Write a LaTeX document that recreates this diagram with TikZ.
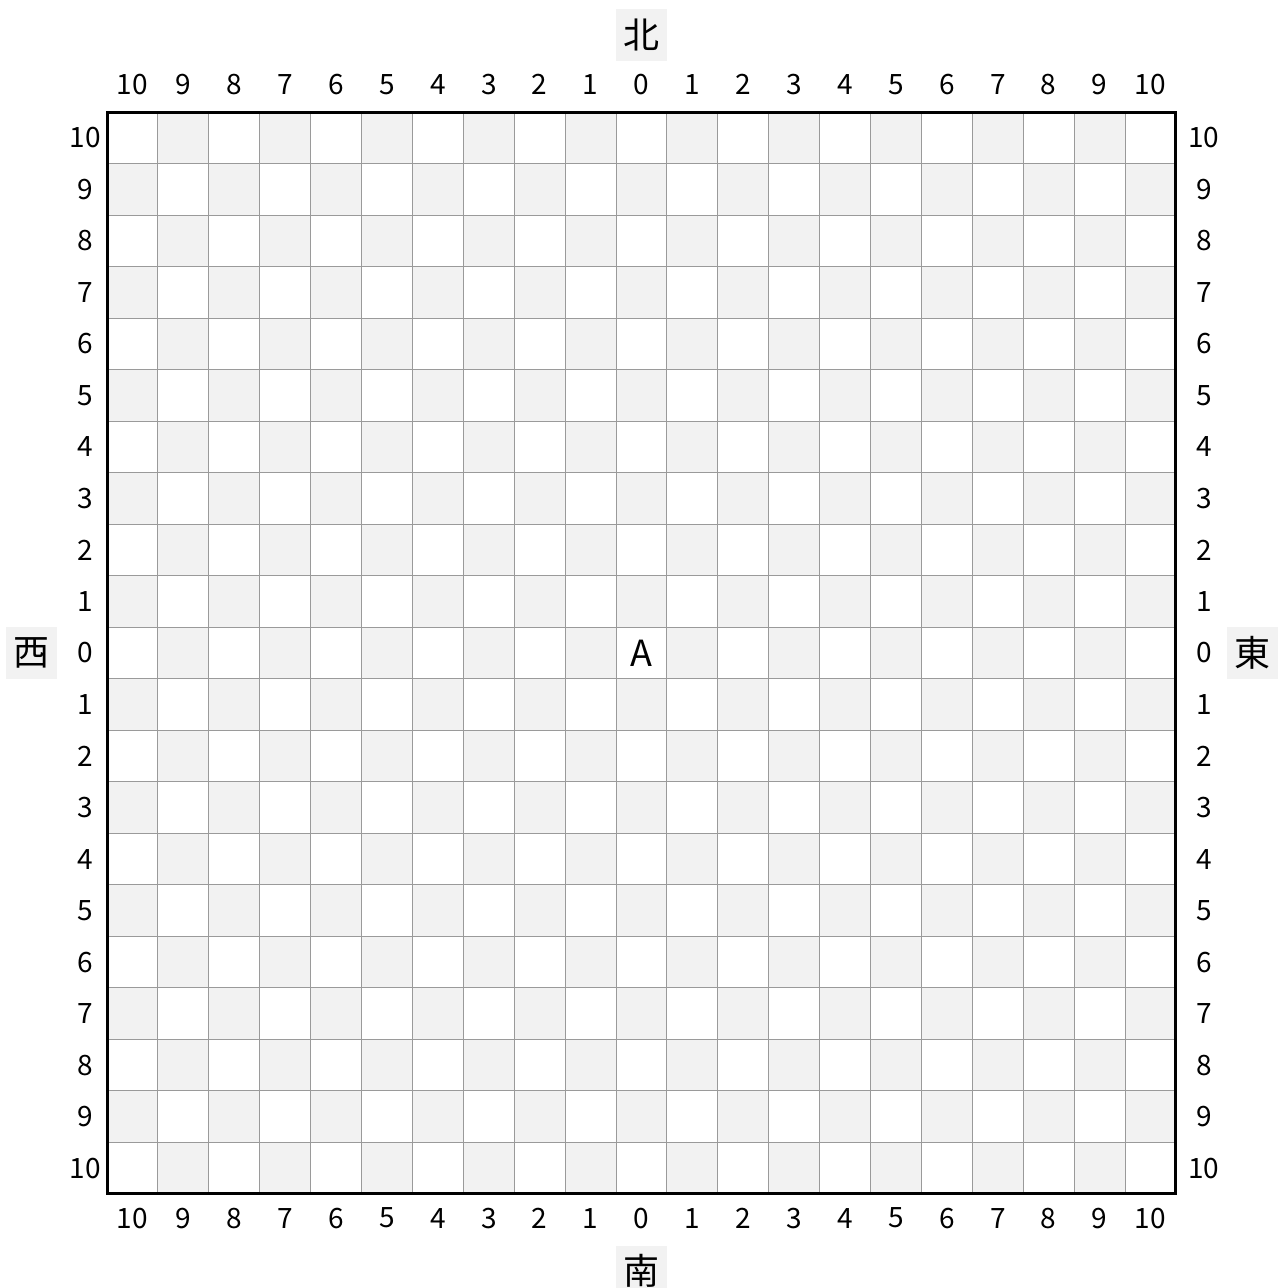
\documentclass[tikz,border=0pt]{standalone}
\usepackage{fontspec}
\setmainfont{Noto Sans CJK JP}

\begin{document}
\begin{tikzpicture}[x=25.45pt, y=25.76pt]
    \definecolor{cellGrey}{HTML}{F2F2F2}
    \definecolor{lineGrey}{HTML}{9A9A9A}

    \def\gridLimit{10}

    \tikzset{
        tick/.style={font=\fontsize{14}{14}\selectfont, inner sep=0pt},
        compass/.style={fill=cellGrey, minimum width=25.45pt, minimum height=25.76pt,
            inner sep=0pt, font=\fontsize{18}{18}\selectfont}
    }

    \useasboundingbox (-12.603,-12.325) rectangle (12.544,12.675);

    % Shade cells
    \foreach \x in {-\gridLimit,...,\gridLimit}
        \foreach \y in {-\gridLimit,...,\gridLimit} {
            \pgfmathtruncatemacro\cellParity{mod(\x+\y+40,2)}
            \ifnum\cellParity=1
                \fill[cellGrey] (\x-0.5,\y-0.5) rectangle ++(1,1);
            \fi
        }

    % Draw grid
    \foreach \k in {-9.5,-8.5,...,9.5} {
        \draw[lineGrey, line width=0.5pt] (\k,-\gridLimit-0.5) -- (\k,\gridLimit+0.5);
        \draw[lineGrey, line width=0.5pt] (-\gridLimit-0.5,\k) -- (\gridLimit+0.5,\k);
    }

    % Frame
    \draw[line width=1.5pt] (-\gridLimit-0.5,-\gridLimit-0.5) rectangle (\gridLimit+0.5,\gridLimit+0.5);

    % Number the columns and rows
    \foreach \i in {-\gridLimit,...,\gridLimit} {
        \pgfmathtruncatemacro\lbl{abs(\i)}
        \node[tick] (top\i) at (\i,11.03) {\lbl};
        \node[tick] (bottom\i) at (\i,-10.97) {\lbl};
        \node[tick] (left\i) at (-10.93,\i) {\lbl};
        \node[tick] (right\i) at (11.05,\i) {\lbl};
    }

    % Point A
    \node[font=\fontsize{18}{18}\selectfont, inner sep=0pt] (pointA) at (0,0) {A};

    % Compass directions
    \node[compass] (north) at (0,12) {北};
    \node[compass] (south) at (0,-12) {南};
    \node[compass] (west) at (-11.98,0) {西};
    \node[compass] (east) at (12,0) {東};

\end{tikzpicture}
\end{document}
